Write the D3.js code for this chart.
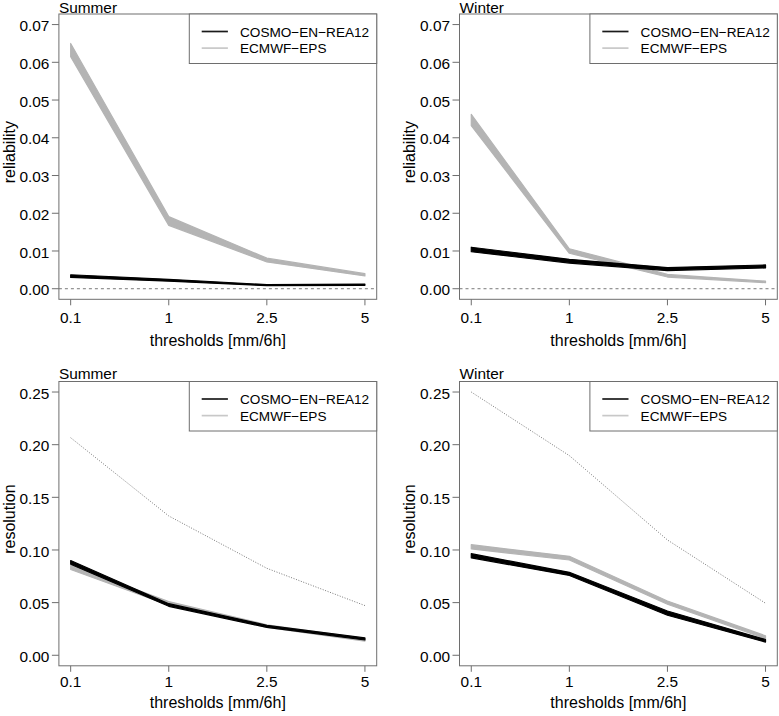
<!DOCTYPE html>
<html>
<head>
<meta charset="utf-8">
<script src="https://cdn.jsdelivr.net/npm/d3@7"></script>
<style>
  html, body { margin: 0; padding: 0; background: #fff; }
  svg text { font-family: "Liberation Sans", Arial, Helvetica, sans-serif; }
</style>
</head>
<body>
<svg id="chart" width="779" height="716"></svg>
<script>
// 阈值 (x 轴类别)
const thresholds = ["0.1", "1", "2.5", "5"];
const seriesNames = ["COSMO-EN-REA12", "ECMWF-EPS"];

// reliability, summer
const relSummerCosmoLo = [0.0030, 0.0020, 0.0008, 0.0009];
const relSummerCosmoHi = [0.0037, 0.0025, 0.0011, 0.0012];
const relSummerEcmwfLo = [0.0615, 0.0168, 0.0071, 0.0034];
const relSummerEcmwfHi = [0.0650, 0.0191, 0.0081, 0.0040];
// reliability, winter
const relWinterCosmoLo = [0.0098, 0.0068, 0.0048, 0.0055];
const relWinterCosmoHi = [0.0110, 0.0078, 0.0056, 0.0063];
const relWinterEcmwfLo = [0.0432, 0.0094, 0.0031, 0.0016];
const relWinterEcmwfHi = [0.0462, 0.0106, 0.0038, 0.0020];
// resolution, summer
const resSummerCosmoLo = [0.0865, 0.0465, 0.0265, 0.0145];
const resSummerCosmoHi = [0.0900, 0.0490, 0.0285, 0.0165];
const resSummerEcmwfLo = [0.0815, 0.0475, 0.0265, 0.0135];
const resSummerEcmwfHi = [0.0855, 0.0510, 0.0290, 0.0160];
const resSummerUncert = [0.2066, 0.1323, 0.0826, 0.0472];
// resolution, winter
const resWinterCosmoLo = [0.0925, 0.0758, 0.0380, 0.0125];
const resWinterCosmoHi = [0.0965, 0.0788, 0.0420, 0.0150];
const resWinterEcmwfLo = [0.1010, 0.0905, 0.0485, 0.0158];
const resWinterEcmwfHi = [0.1050, 0.0940, 0.0515, 0.0185];
const resWinterUncert = [0.2500, 0.1896, 0.1095, 0.0494];

// y 轴刻度
const relTicks = [0, 0.01, 0.02, 0.03, 0.04, 0.05, 0.06, 0.07];
const resTicks = [0, 0.05, 0.10, 0.15, 0.20, 0.25];

// 样式
const boxColor = "#6e6e6e";
const cosmoColor = "#000000";
const ecmwfColor = "#b4b4b4";
const tickStretch = 1.1;
const cols = [{ x0: 58.9, x1: 376.7 }, { x0: 459.5, x1: 777.3 }];
const rows = [
  { y0: 14, y1: 299.3, tickDy: 24, labDy: 47, titleY: 13 },
  { y0: 381.5, y1: 665.8, tickDy: 21, labDy: 42.6, titleY: 379.4 },
];

const zip = (lo, hi) => lo.map((v, i) => ({ lo: v, hi: hi[i] }));

const panels = [
  {
    col: 0, row: 0, title: "Summer", ylab: "reliability", ymax: 0.07, ticks: relTicks,
    bands: [zip(relSummerEcmwfLo, relSummerEcmwfHi), zip(relSummerCosmoLo, relSummerCosmoHi)],
    zeroLine: true,
  },
  {
    col: 1, row: 0, title: "Winter", ylab: "reliability", ymax: 0.07, ticks: relTicks,
    bands: [zip(relWinterEcmwfLo, relWinterEcmwfHi), zip(relWinterCosmoLo, relWinterCosmoHi)],
    zeroLine: true,
  },
  {
    col: 0, row: 1, title: "Summer", ylab: "resolution", ymax: 0.25, ticks: resTicks,
    bands: [zip(resSummerEcmwfLo, resSummerEcmwfHi), zip(resSummerCosmoLo, resSummerCosmoHi)],
    uncert: resSummerUncert,
  },
  {
    col: 1, row: 1, title: "Winter", ylab: "resolution", ymax: 0.25, ticks: resTicks,
    bands: [zip(resWinterEcmwfLo, resWinterEcmwfHi), zip(resWinterCosmoLo, resWinterCosmoHi)],
    uncert: resWinterUncert,
  },
];

const svg = d3.select("#chart");

function drawPanel(p) {
  const { x0, x1 } = cols[p.col];
  const { y0, y1, tickDy, labDy, titleY } = rows[p.row];
  const n = thresholds.length;
  // R 风格: 两端各扩展 4%
  const xExt = (n - 1) * 0.04;
  const x = d3.scaleLinear([1 - xExt, n + xExt], [x0, x1]);
  const yExt = p.ymax * 0.04;
  const y = d3.scaleLinear([-yExt, p.ymax + yExt], [y1, y0]);

  const g = svg.append("g").attr("class", "panel");

  // 参考线
  if (p.zeroLine) {
    g.append("line")
      .attr("x1", x0).attr("x2", x1)
      .attr("y1", y(0)).attr("y2", y(0))
      .attr("stroke", "#555")
      .attr("stroke-width", 0.8)
      .attr("stroke-dasharray", "3,3");
  }
  if (p.uncert) {
    g.append("path")
      .datum(p.uncert)
      .attr("fill", "none")
      .attr("stroke", "#555")
      .attr("stroke-width", 0.8)
      .attr("stroke-dasharray", "1,1.6")
      .attr("d", d3.line().x((d, i) => x(i + 1)).y((d) => y(d)));
  }

  // 带状区间
  const area = d3.area()
    .x((d, i) => x(i + 1))
    .y0((d) => y(d.lo))
    .y1((d) => y(d.hi));
  const bandColors = [ecmwfColor, cosmoColor];
  p.bands.forEach((band, k) => {
    g.append("path")
      .datum(band)
      .attr("fill", bandColors[k])
      .attr("stroke", bandColors[k])
      .attr("stroke-width", 1.2)
      .attr("stroke-linejoin", "round")
      .attr("d", area);
  });

  // 边框
  g.append("rect")
    .attr("x", x0).attr("y", y0)
    .attr("width", x1 - x0).attr("height", y1 - y0)
    .attr("fill", "none")
    .attr("stroke", boxColor)
    .attr("stroke-width", 1);

  // y 轴
  g.append("g")
    .call((a) => {
      a.selectAll("line")
        .data(p.ticks)
        .join("line")
        .attr("x1", x0 - 7).attr("x2", x0)
        .attr("y1", (d) => y(d)).attr("y2", (d) => y(d))
        .attr("stroke", boxColor);
      a.selectAll("text")
        .data(p.ticks)
        .join("text")
        .attr("transform", (d) => `translate(${x0 - 9.5}, ${y(d) + 6.6}) scale(${tickStretch}, 1)`)
        .attr("text-anchor", "end")
        .attr("font-size", 14)
        .attr("fill", "#000")
        .text((d) => d3.format(".2f")(d));
    });

  // x 轴
  g.append("g")
    .call((a) => {
      a.selectAll("line")
        .data(thresholds)
        .join("line")
        .attr("x1", (d, i) => x(i + 1)).attr("x2", (d, i) => x(i + 1))
        .attr("y1", y1).attr("y2", y1 + 6)
        .attr("stroke", boxColor);
      a.selectAll("text")
        .data(thresholds)
        .join("text")
        .attr("transform", (d, i) => `translate(${x(i + 1)}, ${y1 + tickDy}) scale(${tickStretch}, 1)`)
        .attr("text-anchor", "middle")
        .attr("font-size", 14)
        .text((d) => d);
    });

  // 轴标题
  g.append("text")
    .attr("x", (x0 + x1) / 2)
    .attr("y", y1 + labDy)
    .attr("text-anchor", "middle")
    .attr("font-size", 16)
    .text("thresholds [mm/6h]");
  g.append("text")
    .attr("transform", `translate(${x0 - 44.2}, ${(y0 + y1) / 2 - 4.5}) rotate(-90)`)
    .attr("text-anchor", "middle")
    .attr("font-size", 16)
    .text(p.ylab);

  // 标题
  g.append("text")
    .attr("transform", `translate(${x0}, ${titleY}) scale(1.1, 1)`)
    .attr("font-size", 14)
    .text(p.title);

  // 图例
  const lw = 187.4, lh = 49.5;
  const legendG = g.append("g")
    .attr("transform", `translate(${x1 - lw}, ${y0})`);
  legendG.append("rect")
    .attr("width", lw).attr("height", lh)
    .attr("fill", "#fff")
    .attr("stroke", boxColor);
  legendG.selectAll("g")
    .data(seriesNames)
    .join("g")
    .attr("transform", (d, i) => `translate(0, ${17.5 + i * 16.6})`)
    .call((e) => {
      e.append("line")
        .attr("x1", 12.4).attr("x2", 38.6)
        .attr("y1", 0).attr("y2", 0)
        .attr("stroke", (d, i) => (i == 0 ? "#1a1a1a" : "#c8c8c8"))
        .attr("stroke-width", 1.7);
      e.append("text")
        .attr("x", 50.7)
        .attr("y", 5)
        .attr("font-size", 13.6)
        .text((d) => d.replace(/-/g, "\u2212"));
    });
}

panels.forEach(drawPanel);
</script>
</body>
</html>
